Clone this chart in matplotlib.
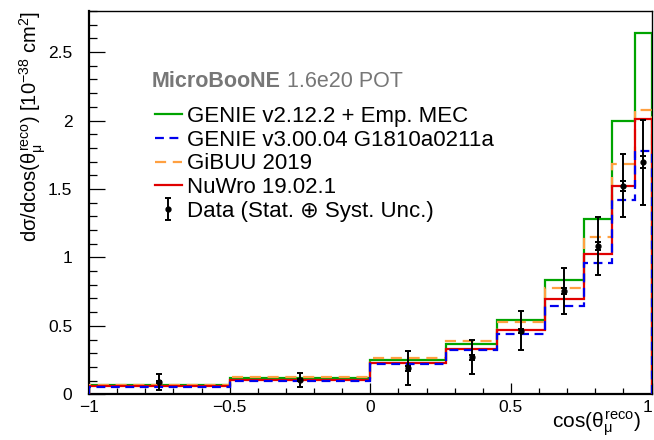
import matplotlib
matplotlib.use("Agg")
import matplotlib.pyplot as plt
from matplotlib.lines import Line2D
from matplotlib.ticker import MultipleLocator
from matplotlib.transforms import ScaledTranslation

# bin edges in cos(theta_mu reco)
bin_edges = [-1.0, -0.5, 0.0, 0.27, 0.45, 0.62, 0.76, 0.86, 0.94, 1.0]

# model predictions [1e-38 cm^2]
genie_v2 = [0.068, 0.121, 0.251, 0.370, 0.541, 0.836, 1.281, 1.993, 2.639]
genie_v3 = [0.053, 0.097, 0.219, 0.322, 0.441, 0.645, 0.958, 1.420, 1.780]
gibuu = [0.071, 0.124, 0.263, 0.392, 0.528, 0.775, 1.148, 1.683, 2.078]
nuwro = [0.061, 0.107, 0.231, 0.331, 0.468, 0.694, 1.023, 1.525, 2.010]

# data points
data_x = [-0.75, -0.25, 0.135, 0.36, 0.535, 0.69, 0.81, 0.90, 0.97]
data_y = [0.090, 0.105, 0.190, 0.270, 0.465, 0.757, 1.084, 1.523, 1.696]
data_err_tot = [0.060, 0.050, 0.125, 0.125, 0.144, 0.168, 0.214, 0.230, 0.310]
data_err_stat = [0.008, 0.008, 0.018, 0.020, 0.015, 0.022, 0.030, 0.035, 0.046]

labels = ["GENIE v2.12.2 + Emp. MEC", "GENIE v3.00.04 G1810a0211a",
          "GiBUU 2019", "NuWro 19.02.1", "Data (Stat. \u2295 Syst. Unc.)"]

c_green = "#00a400"
c_blue = "#0000ee"
c_orange = "#ffa040"
c_red = "#e00000"

plt.rcParams["font.family"] = ["Liberation Sans", "DejaVu Sans"]
plt.rcParams["mathtext.fontset"] = "custom"
plt.rcParams["mathtext.rm"] = "Liberation Sans"
plt.rcParams["mathtext.it"] = "Liberation Sans"
plt.rcParams["mathtext.bf"] = "Liberation Sans:bold"

fig = plt.figure(figsize=(6.54, 4.40), dpi=100)
ax = fig.add_axes([0.1361, 0.1039, 0.8601, 0.8711])

# axes frame in pixels, used to place the texts
x0, x1, y0, y1 = 89.0, 651.5, 394.3, 11.0
def ax_frac(px, py):
    return (px - x0) / (x1 - x0), (y0 - py) / (y0 - y1)

lw = 1.6
ax.stairs(genie_v2, bin_edges, baseline=0, color=c_green, lw=lw, zorder=2)
ax.stairs(gibuu, bin_edges, baseline=0, color=c_orange, lw=lw,
          linestyle=(0, (5, 3)), zorder=3)
ax.stairs(nuwro, bin_edges, baseline=0, color=c_red, lw=lw, zorder=4)
ax.stairs(genie_v3, bin_edges, baseline=0, color=c_blue, lw=lw,
          linestyle=(0, (4, 2.5)), zorder=5)

eb = ax.errorbar(data_x, data_y, yerr=data_err_tot, fmt="o", color="black",
                 ms=3.5, elinewidth=1.4, capsize=2.3, capthick=1.4, zorder=6)
ax.errorbar(data_x, data_y, yerr=data_err_stat, fmt="none", ecolor="black",
            elinewidth=1.4, capsize=2.3, capthick=1.4, zorder=6)

ax.set_xlim(-1, 1)
ax.set_ylim(0, 2.80)
ax.xaxis.set_major_locator(MultipleLocator(0.5))
ax.xaxis.set_minor_locator(MultipleLocator(0.1))
ax.yaxis.set_major_locator(MultipleLocator(0.5))
ax.yaxis.set_minor_locator(MultipleLocator(0.1))
ax.xaxis.set_major_formatter(plt.FuncFormatter(lambda v, p: ("%g" % v).replace("-", "\u2212")))
ax.yaxis.set_major_formatter(plt.FuncFormatter(lambda v, p: "%g" % v))

ax.tick_params(axis="both", which="both", direction="in", top=False, right=False,
               color="black", width=0.9, labelsize=12.5)
ax.tick_params(axis="x", which="major", length=8, pad=4)
ax.tick_params(axis="x", which="minor", length=4)
ax.tick_params(axis="y", which="major", length=11.5, pad=12)
ax.tick_params(axis="y", which="minor", length=5.5)
for s in ["left", "bottom"]:
    ax.spines[s].set_linewidth(1.6)
for s in ["top", "right"]:
    ax.spines[s].set_linewidth(1.0)

ax.set_ylabel(r"d$\sigma$/dcos($\theta^{\rm reco}_{\mu}$) [10$^{-38}$ cm$^{2}$]",
              fontsize=14.5, loc="top")
ax.yaxis.set_label_coords(-0.073, 1.0)
ax.set_xlabel(r"cos($\theta^{\rm reco}_{\mu}$)", fontsize=15, loc="right")
ax.xaxis.label.set_va("bottom")
ax.xaxis.set_label_coords(ax_frac(641, 0)[0], ax_frac(0, 438.5)[1])

# experiment label
t1 = ax.text(*ax_frac(152, 82), "MicroBooNE", transform=ax.transAxes,
             fontsize=15.5, fontweight="bold", color="#777777",
             va="center", ha="left")
ax.annotate(" 1.6e20 POT", xy=(1, 0), xycoords=t1, va="bottom", ha="left",
            fontsize=15.5, color="#777777")

handles = [
    Line2D([], [], color=c_green, lw=lw),
    Line2D([], [], color=c_blue, lw=lw, linestyle=(0, (4, 2.5))),
    Line2D([], [], color=c_orange, lw=lw, linestyle=(0, (5, 3))),
    Line2D([], [], color=c_red, lw=lw),
    eb,
]
leg = ax.legend(handles, labels, loc="upper left", frameon=False, fontsize=16,
                bbox_to_anchor=ax_frac(155, 106),
                handlelength=1.2, handletextpad=0.25, labelspacing=0.12,
                borderpad=0, borderaxespad=0)

# nudge the "1" tick label so it stays inside the canvas
fig.canvas.draw()
for tick in ax.xaxis.get_major_ticks():
    if abs(tick.get_loc() - 1.0) < 1e-9:
        lab = tick.label1
        lab.set_transform(lab.get_transform() +
                          ScaledTranslation(-3 / 72, 0, fig.dpi_scale_trans))

fig.savefig("out.png", dpi=100)
